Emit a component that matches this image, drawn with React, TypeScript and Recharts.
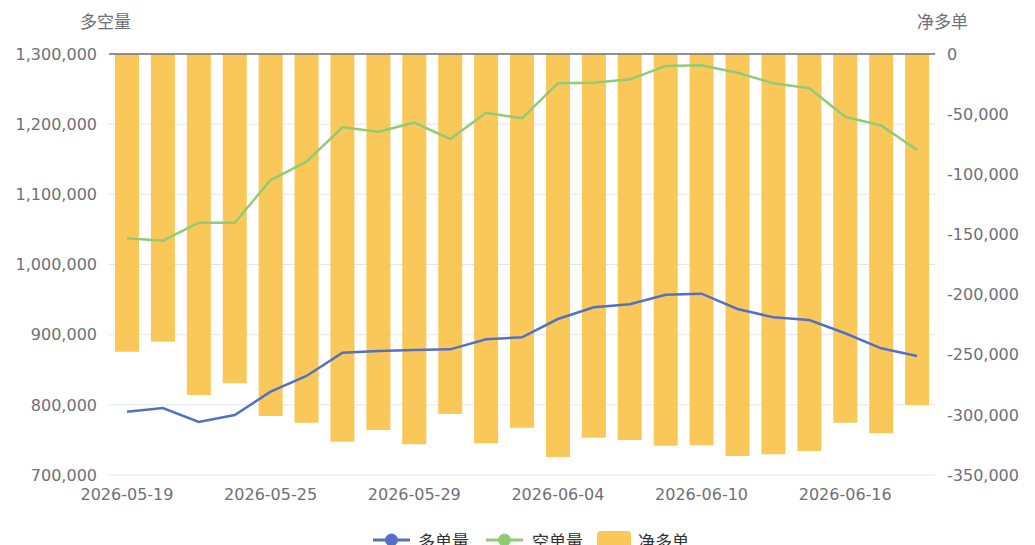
import React from 'react';
import { ComposedChart, Bar, Line, XAxis, YAxis, CartesianGrid, ReferenceLine } from 'recharts';

const dates = [
  '2026-05-19', '2026-05-20', '2026-05-21', '2026-05-22', '2026-05-25', '2026-05-26',
  '2026-05-27', '2026-05-28', '2026-05-29', '2026-06-01', '2026-06-02', '2026-06-03',
  '2026-06-04', '2026-06-05', '2026-06-08', '2026-06-09', '2026-06-10', '2026-06-11',
  '2026-06-12', '2026-06-15', '2026-06-16', '2026-06-17', '2026-06-18',
];

const longVol = [
  790200, 795500, 775500, 785500, 818700, 841100, 874300, 876700, 878100, 879100,
  893400, 896200, 922300, 939000, 943300, 957000, 958400, 936600, 924700, 920900,
  902000, 880600, 869600,
];

const shortVol = [
  1037300, 1033900, 1059600, 1059600, 1120400, 1146500, 1195500, 1189300, 1202100, 1178900,
  1216300, 1208400, 1258200, 1259100, 1263900, 1282900, 1283900, 1273300, 1258200, 1251100,
  1210600, 1198100, 1163200,
];

const netLong = [
  -247500, -239200, -283500, -273800, -301000, -306500, -322300, -312600, -324500, -299300,
  -323600, -310700, -335000, -319000, -320900, -325600, -325300, -334200, -332800, -330000,
  -306500, -315300, -291800,
];

const leftTicks = [700000, 800000, 900000, 1000000, 1100000, 1200000, 1300000];
const rightTicks = [-350000, -300000, -250000, -200000, -150000, -100000, -50000, 0];

const seriesNames = ['多单量', '空单量', '净多单'];
const axisNames = ['多空量', '净多单'];

const data = dates.map((d, i) => ({ date: d, long: longVol[i], short: shortVol[i], net: netLong[i] }));

const fmt = (v: number) => v.toLocaleString('en-US');

const tickStyle = { fill: '#6E7079', fontSize: 16, fontFamily: 'DejaVu Sans, sans-serif' };
const cjkFont = '"Noto Sans CJK SC", sans-serif';

export default function App() {
  return (
    <div style={{ position: 'absolute', left: 0, top: 0, width: 1035, height: 545, overflow: 'hidden', background: '#fff' }}>
      <div style={{ position: 'absolute', left: 80, top: 8, fontFamily: cjkFont, fontSize: 17, color: '#6E7079' }}>{axisNames[0]}</div>
      <div style={{ position: 'absolute', left: 917, top: 8, fontFamily: cjkFont, fontSize: 17, color: '#6E7079' }}>{axisNames[1]}</div>
      <ComposedChart width={1035} height={545} data={data} margin={{ top: 54, right: 0, bottom: 40, left: 0 }}>
        <CartesianGrid yAxisId="left" vertical={false} stroke="#E0E6F1" />
        <XAxis dataKey="date" interval={3} axisLine={false} tickLine={false} tickSize={0} tickMargin={14} height={30} tick={tickStyle} />
        <YAxis yAxisId="left" orientation="left" width={109} domain={[700000, 1300000]} ticks={leftTicks} tickFormatter={fmt} axisLine={false} tickLine={false} tickSize={0} tickMargin={12} tick={tickStyle} />
        <YAxis yAxisId="right" orientation="right" width={100} domain={[-350000, 0]} ticks={rightTicks} tickFormatter={fmt} axisLine={false} tickLine={false} tickSize={0} tickMargin={12} tick={tickStyle} />
        <ReferenceLine yAxisId="right" y={0} stroke="#6E7079" strokeWidth={1.5} />
        <Bar yAxisId="right" dataKey="net" name={seriesNames[2]} fill="#FAC858" barSize={24} isAnimationActive={false} />
        <Line yAxisId="left" type="linear" dataKey="long" name={seriesNames[0]} stroke="#5470C6" strokeWidth={2.5} dot={false} isAnimationActive={false} />
        <Line yAxisId="left" type="linear" dataKey="short" name={seriesNames[1]} stroke="#91CC75" strokeWidth={2.5} dot={false} isAnimationActive={false} />
      </ComposedChart>
      <svg style={{ position: 'absolute', left: 0, top: 520 }} width={1035} height={40}>
        <g>
          <line x1={373} y1={20} x2={410} y2={20} stroke="#5470C6" strokeWidth={3} />
          <circle cx={391.5} cy={20} r={6} fill="#5470C6" stroke="#5470C6" />
          <text x={418} y={20} dominantBaseline="central" fontSize={17} fontFamily={cjkFont} fill="#333">{seriesNames[0]}</text>
        </g>
        <g>
          <line x1={486} y1={20} x2={523} y2={20} stroke="#91CC75" strokeWidth={3} />
          <circle cx={504.5} cy={20} r={6} fill="#91CC75" stroke="#91CC75" />
          <text x={532} y={20} dominantBaseline="central" fontSize={17} fontFamily={cjkFont} fill="#333">{seriesNames[1]}</text>
        </g>
        <g>
          <rect x={597} y={11} width={34} height={18} rx={4} fill="#FAC858" />
          <text x={638} y={20} dominantBaseline="central" fontSize={17} fontFamily={cjkFont} fill="#333">{seriesNames[2]}</text>
        </g>
      </svg>
    </div>
  );
}
